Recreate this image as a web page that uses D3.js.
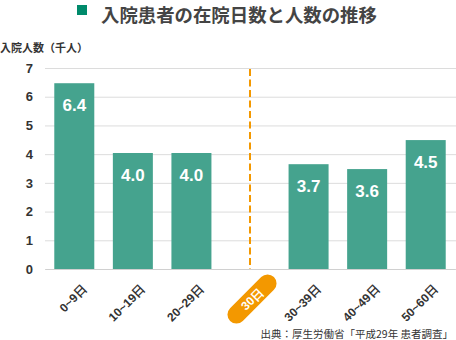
<!DOCTYPE html>
<html>
<head>
    <meta charset="utf-8">
    <script src="https://d3js.org/d3.v7.min.js"></script>
    <style>
        body { margin: 0; background: #fff; }
        svg { display: block; font-family: "Liberation Sans", Arial, "Noto Sans CJK JP", sans-serif; }
    </style>
</head>
<body>
    <div id="chart"></div>
    <script>
        let categories = ["0~9日", "10~19日", "20~29日", "30日", "30~39日", "40~49日", "50~60日"];
        // bar heights as drawn (千人); the 30日 slot is only the divider
        let values = [6.47, 4.04, 4.04, null, 3.65, 3.48, 4.49];
        let valueLabels = ["6.4", "4.0", "4.0", "", "3.7", "3.6", "4.5"];
        let yTicks = [0, 1, 2, 3, 4, 5, 6, 7];
        let markerCategory = "30日";

        let width = 456;
        let height = 340;
        let marginLeft = 45;
        let marginRight = 1;
        let marginTop = 68;
        let marginBottom = 71;

        let svg = d3.select("#chart").append("svg")
            .attr("width", width)
            .attr("height", height);

        let x = d3.scaleBand()
            .domain(categories)
            .range([marginLeft, width - marginRight])
            .paddingInner(0.317)
            .paddingOuter(0.1585);

        let y = d3.scaleLinear()
            .domain([0, 7])
            .range([height - marginBottom, marginTop]);

        // title
        svg.append("rect")
            .attr("x", 77).attr("y", 5)
            .attr("width", 10).attr("height", 10)
            .attr("fill", "#008a6b");
        svg.append("text")
            .attr("x", 101).attr("y", 21.5)
            .attr("font-size", 18.4)
            .attr("font-weight", "bold")
            .attr("fill", "#444")
            .attr("font-family", "'Noto Sans CJK JP', sans-serif")
            .text("入院患者の在院日数と人数の推移");

        svg.append("text")
            .attr("x", 0).attr("y", 52)
            .attr("font-size", 11)
            .attr("font-weight", "bold")
            .attr("fill", "#333")
            .attr("font-family", "'Noto Sans CJK JP', sans-serif")
            .text("入院人数（千人）");

        // y axis with grid
        let yAxis = svg.append("g")
            .attr("transform", `translate(${marginLeft},0)`)
            .call(d3.axisLeft(y).tickValues(yTicks).tickFormat(d3.format("d"))
                .tickSize(-(width - marginLeft)).tickPadding(12));
        yAxis.select(".domain").remove();
        yAxis.selectAll("line").attr("stroke", "#dcdcdc");
        yAxis.selectAll("text")
            .attr("font-size", 13)
            .attr("font-weight", "bold")
            .attr("fill", "#333");

        // bars
        let data = categories.map((c, i) => ({cat: c, value: values[i], label: valueLabels[i]}))
            .filter(d => d.value != null);

        svg.append("g")
            .selectAll("rect")
            .data(data)
            .join("rect")
            .attr("x", d => x(d.cat))
            .attr("y", d => y(d.value))
            .attr("width", x.bandwidth())
            .attr("height", d => y(0) - y(d.value))
            .attr("fill", "#45a38e");

        svg.append("g")
            .selectAll("text")
            .data(data)
            .join("text")
            .attr("x", d => x(d.cat) + x.bandwidth() / 2)
            .attr("y", d => y(d.value) + 28)
            .attr("text-anchor", "middle")
            .attr("font-size", 17)
            .attr("font-weight", "bold")
            .attr("fill", "#fff")
            .text(d => d.label);

        // 30日 divider
        let mx = x(markerCategory) + x.bandwidth() / 2;
        svg.append("line")
            .attr("x1", mx).attr("x2", mx)
            .attr("y1", y(7) + 1).attr("y2", y(0))
            .attr("stroke", "#f39800")
            .attr("stroke-width", 2)
            .attr("stroke-dasharray", "7,3.5");

        // x axis labels
        let xAxis = svg.append("g")
            .attr("transform", `translate(0,${y(0)})`)
            .call(d3.axisBottom(x).tickSize(0).tickPadding(0));
        xAxis.select(".domain").attr("stroke", "#d0d0d0");
        xAxis.selectAll(".tick text")
            .attr("text-anchor", "end")
            .attr("dy", null)
            .attr("y", null)
            .attr("transform", "translate(13,21) rotate(-45)")
            .attr("font-size", 12)
            .attr("font-weight", "bold")
            .attr("fill", "#333");

        let markerTick = xAxis.selectAll(".tick").filter(d => d === markerCategory);
        markerTick.select("text").remove();
        let pill = markerTick.append("g")
            .attr("transform", "translate(2,30) rotate(-45)");
        pill.append("rect")
            .attr("x", -31).attr("y", -9)
            .attr("width", 62).attr("height", 18)
            .attr("rx", 9)
            .attr("fill", "#f39800");
        pill.append("text")
            .attr("text-anchor", "middle")
            .attr("dy", "0.36em")
            .attr("font-size", 12)
            .attr("font-weight", "bold")
            .attr("fill", "#fff")
            .text(markerCategory);

        svg.append("text")
            .attr("x", 453).attr("y", 338)
            .attr("text-anchor", "end")
            .attr("font-size", 10.5)
            .attr("fill", "#333")
            .attr("font-family", "'Noto Sans CJK JP', sans-serif")
            .text("出典：厚生労働省「平成29年 患者調査」");
    </script>
</body>
</html>
